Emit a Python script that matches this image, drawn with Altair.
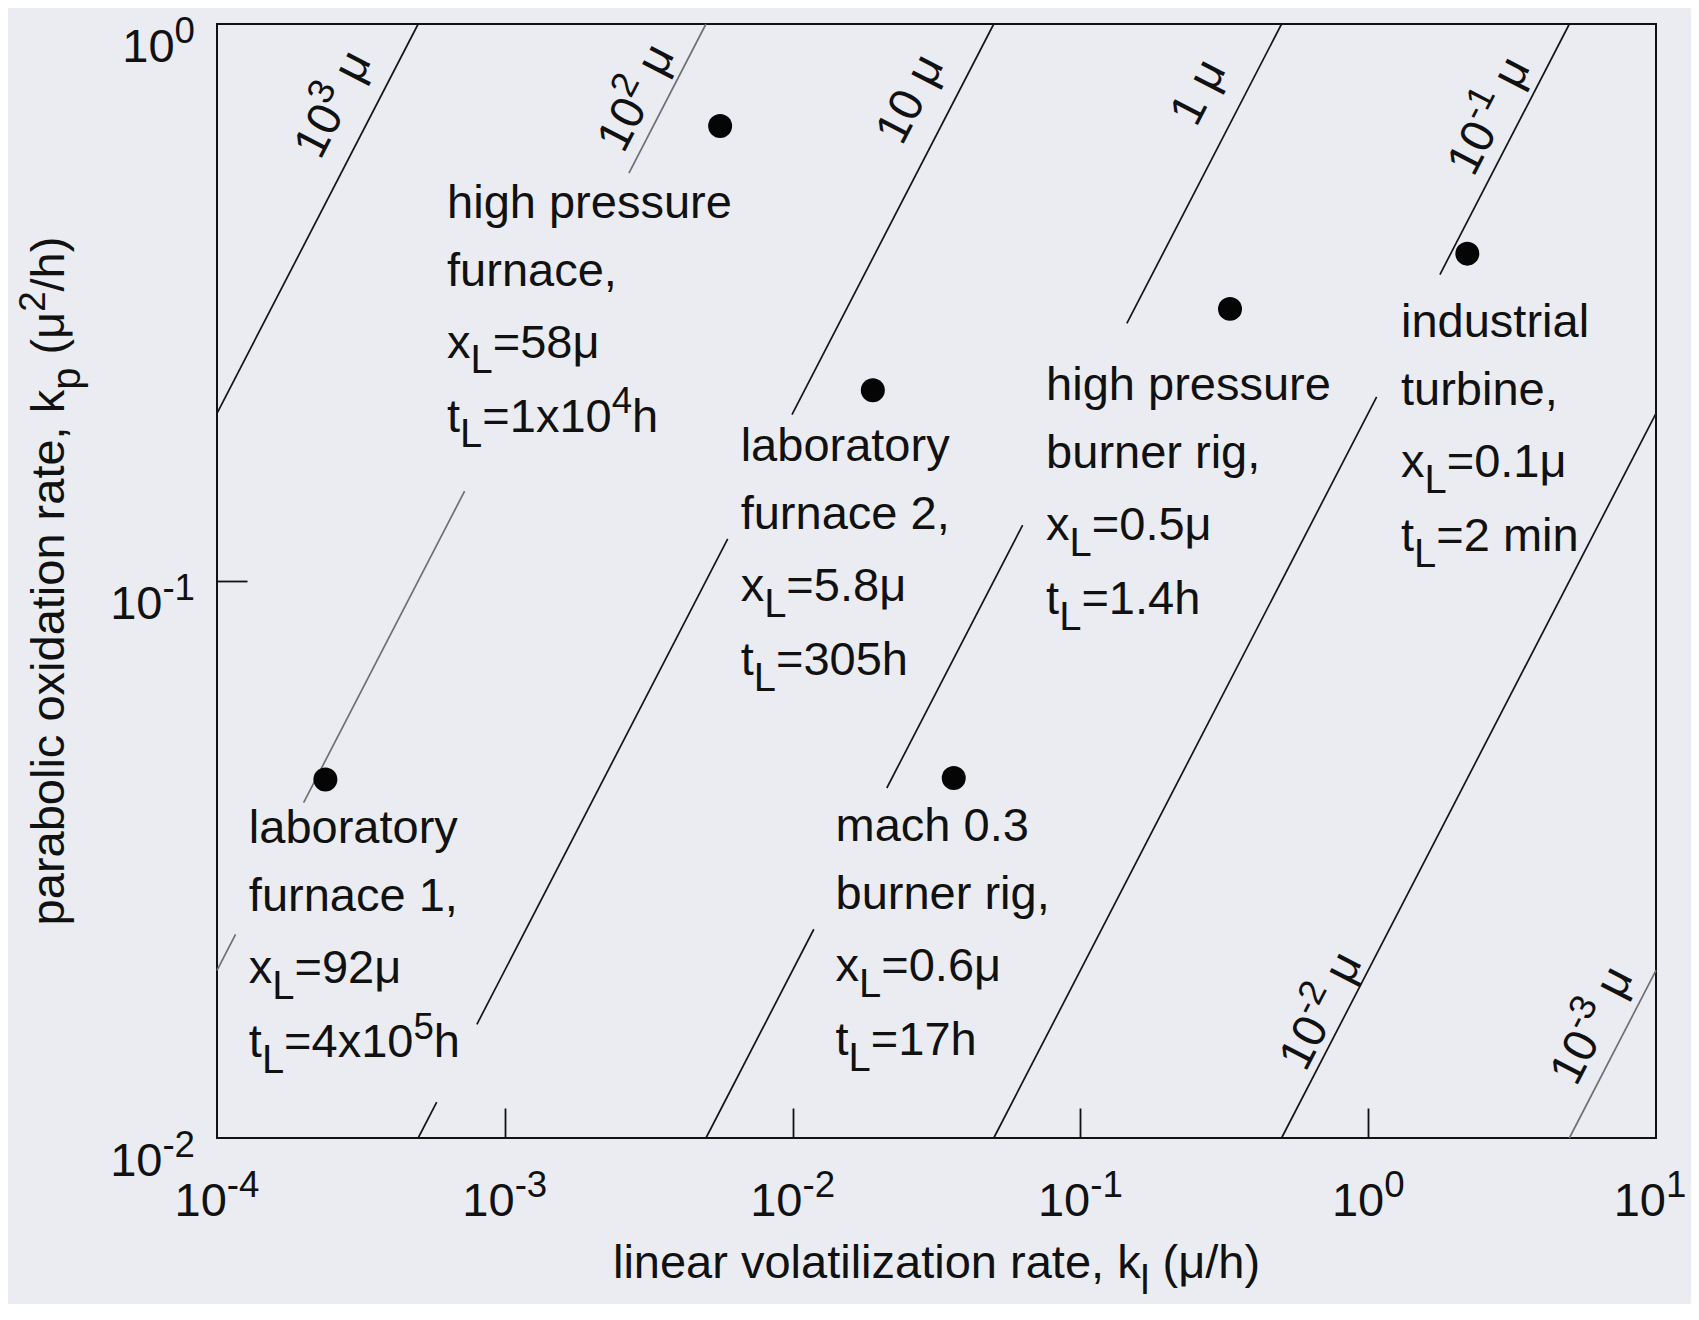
import re
import math
import altair as alt
import pandas as pd

# ---------------- data ----------------
# limiting oxide thickness of each diagonal line (micron); kp = 2 * xL * kl
LINE_XL = [1000, 100, 10, 1, 0.1, 0.01, 0.001]
# visible pieces of each line, given as (kp_low, kp_high); None = runs to the plot edge
LINE_PIECES = [
    [(None, None)],
    [(0.54, None), (0.040, 0.145), (None, 0.0232)],
    [(0.199, None), (0.016, 0.119), (None, 0.0116)],
    [(0.29, None), (0.0425, 0.126), (None, 0.0237)],
    [(0.355, None), (None, 0.214)],
    [(None, None)],
    [(None, None)],
]
LINE_TONE = ["dark", "light", "dark", "dark", "dark", "dark", "light"]
LINE_LABEL = ["10^{3} μ", "10^{2} μ", "10 μ", "1 μ", "10^{-1} μ", "10^{-2} μ", "10^{-3} μ"]
LINE_LABEL_KL = [2.49e-4, 2.82e-3, 2.52e-2, 0.253, 2.59, 0.675, 5.89]
LINE_LABEL_KP = [0.721, 0.741, 0.737, 0.758, 0.687, 0.0170, 0.0160]

SITE_KL = [5.6e-3, 2.38e-4, 1.9e-2, 0.331, 0.0363, 2.21]
SITE_KP = [0.656, 0.044, 0.22, 0.308, 0.0443, 0.387]

NOTE_LINES = [
    ["high pressure", "furnace,", "x_{L}=58μ", "t_{L}=1x10^{4}h"],
    ["laboratory", "furnace 1,", "x_{L}=92μ", "t_{L}=4x10^{5}h"],
    ["laboratory", "furnace 2,", "x_{L}=5.8μ", "t_{L}=305h"],
    ["high pressure", "burner rig,", "x_{L}=0.5μ", "t_{L}=1.4h"],
    ["mach 0.3", "burner rig,", "x_{L}=0.6μ", "t_{L}=17h"],
    ["industrial", "turbine,", "x_{L}=0.1μ", "t_{L}=2 min"],
]
NOTE_KL = [6.3e-4, 1.29e-4, 6.6e-3, 7.6e-2, 1.41e-2, 1.30]
NOTE_KP = [0.449, 0.0338, 0.164, 0.211, 0.0341, 0.274]

X_TICKS = [1e-4, 1e-3, 1e-2, 1e-1, 1, 10]
X_TICK_TEXT = ["10^{-4}", "10^{-3}", "10^{-2}", "10^{-1}", "10^{0}", "10^{1}"]
Y_TICKS = [1, 0.1, 0.01]
Y_TICK_TEXT = ["10^{0}", "10^{-1}", "10^{-2}"]
X_TITLE = "linear volatilization rate, k_{l} (μ/h)"
Y_TITLE = "parabolic oxidation rate, k_{p} (μ^{2}/h)"

XMIN, XMAX, YMIN, YMAX = 1e-4, 10.0, 0.01, 1.0

# ---------------- layout / style ----------------
PLOT_W, PLOT_H = 1439, 1114
F = 47
BG = "#eaecf1"
INK = "#111111"
NOTE_STEPS = [0, 68, 140, 214]

# Arial / Liberation Sans advance widths (1/1000 em)
ADV = {c: 556 for c in "0123456789abdeghnopqu"}
ADV.update({"c": 500, "f": 278, "i": 222, "j": 222, "k": 500, "l": 222, "m": 833,
            "r": 333, "s": 500, "t": 278, "v": 500, "w": 722, "x": 500, "y": 500,
            "z": 500, "L": 556, " ": 278, ",": 278, ".": 278, "=": 584, "-": 333,
            "(": 333, ")": 333, "/": 278, "μ": 576})
SCALE = {"norm": 1.0, "sup": 0.78, "sub": 0.85}
SHIFT = {"norm": 0.0, "sup": -0.40, "sub": 0.33}


def parse(s):
    runs = []
    for m in re.finditer(r"\^\{([^}]*)\}|_\{([^}]*)\}|([^^_]+)", s):
        if m.group(1) is not None:
            runs.append((m.group(1), "sup"))
        elif m.group(2) is not None:
            runs.append((m.group(2), "sub"))
        else:
            runs.append((m.group(3), "norm"))
    return runs


def adv(t, size):
    return sum(ADV.get(c, 556) for c in t) * size / 1000.0


def place(rows, s, kl, kp, align="left", dx0=0.0, dy0=0.0, angle=0.0, fs=F):
    runs = parse(s)
    total = sum(adv(t, fs * SCALE[k]) for t, k in runs)
    x = dx0 - {"left": 0.0, "center": total / 2.0, "right": total}[align]
    for t, k in runs:
        size = fs * SCALE[k]
        lead = len(t) - len(t.lstrip(" "))
        x += adv(" " * lead, size)
        body = t.strip(" ")
        if body:
            rows.append(dict(kl=kl, kp=kp, text=body, size=size, dx=round(x, 2),
                             dy=round(dy0 + SHIFT[k] * fs, 2), angle=angle))
        x += adv(t[lead:], size)


# ---------------- build tables ----------------
line_rows = []
for xl, pieces, tone in zip(LINE_XL, LINE_PIECES, LINE_TONE):
    lo_edge = max(YMIN, 2 * xl * XMIN)
    hi_edge = min(YMAX, 2 * xl * XMAX)
    for i, (lo, hi) in enumerate(pieces):
        lo = lo_edge if lo is None else lo
        hi = hi_edge if hi is None else hi
        for kp in (lo, hi):
            line_rows.append(dict(piece=f"{xl}-{i}", kl=kp / (2 * xl), kp=kp, tone=tone))
lines_df = pd.DataFrame(line_rows)

sites_df = pd.DataFrame(dict(kl=SITE_KL, kp=SITE_KP))

LINE_ANGLE = 360 - math.degrees(math.atan((PLOT_H / 2.0) / (PLOT_W / 5.0)))

text_rows = []
for s, kl, kp in zip(LINE_LABEL, LINE_LABEL_KL, LINE_LABEL_KP):
    place(text_rows, s, kl, kp, align="center", dy0=0.36 * F, angle=LINE_ANGLE)
for block, kl, kp in zip(NOTE_LINES, NOTE_KL, NOTE_KP):
    for j, s in enumerate(block):
        place(text_rows, s, kl, kp, align="left", dy0=NOTE_STEPS[j])
for v, s in zip(X_TICKS, X_TICK_TEXT):
    # the last label is nudged left so it stays inside the page
    place(text_rows, s, v, YMIN, align="center", dx0=(-6 if v == XMAX else 0), dy0=78)
for v, s in zip(Y_TICKS, Y_TICK_TEXT):
    place(text_rows, s, XMIN, v, align="right", dx0=-22, dy0=38)
place(text_rows, X_TITLE, 10 ** -1.5, YMIN, align="center", dy0=140)
place(text_rows, Y_TITLE, XMIN, 0.1, align="center", dy0=-153, angle=270)
text_df = pd.DataFrame(text_rows)

# ---------------- chart ----------------
xscale = alt.Scale(type="log", domain=[XMIN, XMAX], nice=False)
yscale = alt.Scale(type="log", domain=[YMIN, YMAX], nice=False)
xaxis = alt.Axis(values=[1e-3, 1e-2, 1e-1, 1], tickSize=30, offset=-30, domain=False,
                 labels=False, grid=False, title=None, tickColor=INK, tickWidth=1.8)
yaxis = alt.Axis(values=[0.1], tickSize=30, offset=-30, domain=False,
                 labels=False, grid=False, title=None, tickColor=INK, tickWidth=1.8)


def X():
    return alt.X("kl:Q", scale=xscale, axis=xaxis)


def Y():
    return alt.Y("kp:Q", scale=yscale, axis=yaxis)


lines = alt.Chart(lines_df).mark_line(strokeWidth=1.7).encode(
    x=X(), y=Y(), detail="piece:N",
    color=alt.Color("tone:N", scale=alt.Scale(domain=["dark", "light"],
                                              range=["#151515", "#707070"]), legend=None),
)

points = alt.Chart(sites_df).mark_circle(size=575, color="#050505", opacity=1).encode(
    x=X(), y=Y()
)

texts = alt.Chart(text_df).mark_text(
    align="left", baseline="alphabetic", font="Liberation Sans", color=INK,
    dx={"expr": "datum.dx"}, dy={"expr": "datum.dy"},
).encode(
    x=X(), y=Y(), text="text:N",
    size=alt.Size("size:Q", scale=None),
    angle=alt.Angle("angle:Q", scale=None),
)

chart = alt.layer(lines, points, texts).properties(
    width=PLOT_W, height=PLOT_H, background=BG,
    padding={"left": 209, "top": 16, "right": 35, "bottom": 166},
    autosize=alt.AutoSizeParams(type="none"),
).configure_view(stroke=INK, strokeWidth=2)

chart.save("out.html", embed_options={"renderer": "svg", "actions": False})
